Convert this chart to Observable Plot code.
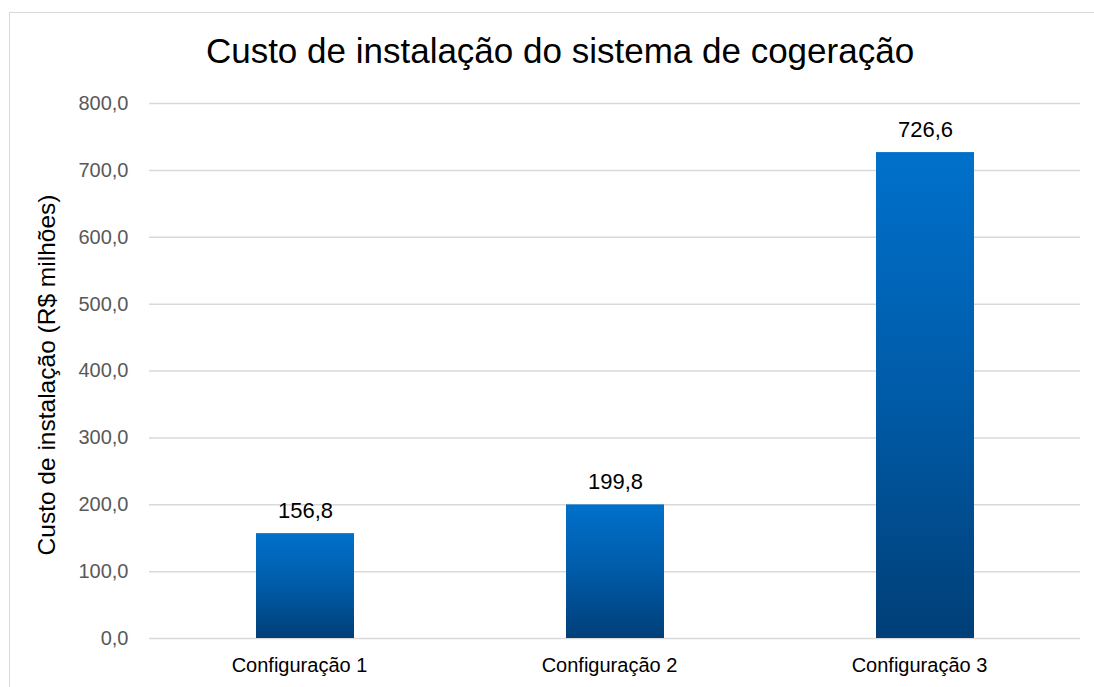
<!DOCTYPE html>
<html>
<head>
<meta charset="utf-8">
<script src="https://cdn.jsdelivr.net/npm/d3@7"></script>
<script src="https://cdn.jsdelivr.net/npm/@observablehq/plot@0.6"></script>
<style>
  html, body { margin: 0; padding: 0; background: #fff; overflow: hidden; }
  #wrap { position: relative; width: 1094px; height: 687px; }
  #frame { position: absolute; left: 9px; top: 12px; width: 1100px; height: 700px; border: 1.5px solid #d9d9d9; box-sizing: border-box; }
  #title { position: absolute; left: 0; top: 33px; width: 1120px; text-align: center; font-family: "Liberation Sans", Arial, sans-serif; font-size: 35px; line-height: 35px; color: #000; z-index: 2; }
  #chart { position: absolute; left: 0; top: 0; }
</style>
</head>
<body>
<div id="wrap">
  <div id="frame"></div>
  <div id="title">Custo de instalação do sistema de cogeração</div>
  <div id="chart"></div>
</div>
<script>
const categories = ["Configuração 1", "Configuração 2", "Configuração 3"];
const values = [156.8, 199.8, 726.6];
const yTicks = [0, 100, 200, 300, 400, 500, 600, 700, 800];
const yLabel = "Custo de instalação (R$ milhões)";

const data = categories.map((c, i) => ({category: c, value: values[i]}));
const fmt = v => v.toFixed(1).replace(".", ",");

const gradientDefs = () => {
  const defs = d3.create("svg:defs");
  const g = defs.append("linearGradient").attr("id", "barGrad")
    .attr("x1", 0).attr("y1", 0).attr("x2", 0).attr("y2", 1);
  g.append("stop").attr("offset", "0%").attr("stop-color", "#0071CB");
  g.append("stop").attr("offset", "50%").attr("stop-color", "#005BA8");
  g.append("stop").attr("offset", "100%").attr("stop-color", "#003F78");
  return defs.node();
};

const chart = Plot.plot({
  width: 1094,
  height: 687,
  marginLeft: 149,
  marginRight: 14,
  marginTop: 103,
  marginBottom: 49,
  style: { fontFamily: "'Liberation Sans', Arial, sans-serif", background: "transparent" },
  x: { domain: categories, paddingInner: 0.684, paddingOuter: 0.342, label: null },
  y: { domain: [0, 800], label: null },
  marks: [
    gradientDefs,
    Plot.ruleY(yTicks, { stroke: "#d9d9d9", strokeWidth: 1.5 }),
    Plot.barY(data, { x: "category", y: "value", fill: "url(#barGrad)" }),
    Plot.text(data, { x: "category", y: "value", text: d => fmt(d.value), dy: -23, fontSize: 22, fill: "#000" }),
    Plot.axisY({ ticks: yTicks, tickFormat: fmt, tickSize: 0, tickPadding: 21, fontSize: 20, color: "#595959", label: null }),
    Plot.axisX({ tickSize: 0, tickPadding: 19, dx: -6, fontSize: 20, color: "#000", label: null })
  ]
});

// y-axis title as real SVG text
const svg = d3.select(chart);
svg.append("text")
  .attr("transform", "translate(49,375) rotate(-90)")
  .attr("text-anchor", "middle")
  .attr("dominant-baseline", "middle")
  .attr("font-family", "'Liberation Sans', Arial, sans-serif")
  .attr("font-size", 24.5)
  .attr("fill", "#000")
  .text(yLabel);

document.getElementById("chart").appendChild(chart);
</script>
</body>
</html>
